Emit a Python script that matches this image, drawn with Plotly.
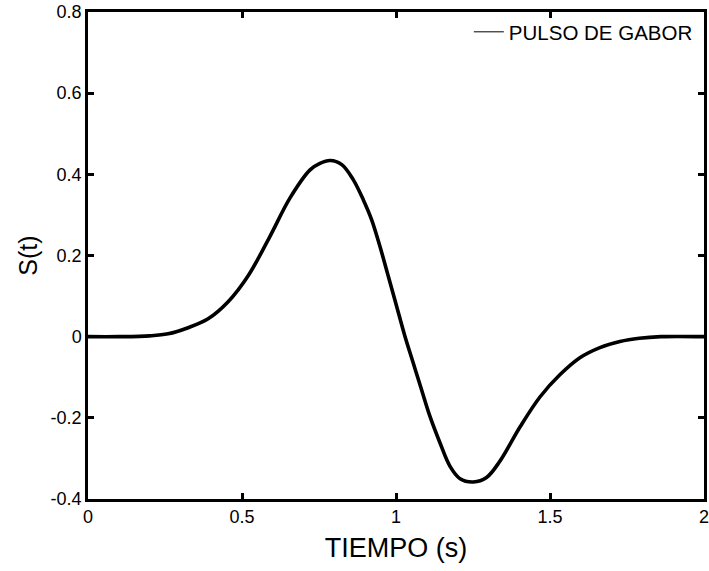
import plotly.graph_objects as go

# Gabor pulse S(t), sampled along the time axis
tiempo = [0.0, 0.1, 0.2, 0.26, 0.325, 0.39, 0.455, 0.52, 0.59, 0.656, 0.721,
          0.753, 0.786, 0.824, 0.861, 0.894, 0.921, 0.948, 0.975, 1.002, 1.029,
          1.056, 1.083, 1.110, 1.143, 1.175, 1.208, 1.251, 1.294, 1.338, 1.403,
          1.468, 1.532, 1.597, 1.662, 1.727, 1.79, 1.86, 2.0]
senal = [0.0, 0.0, 0.002, 0.007, 0.022, 0.044, 0.086, 0.150, 0.246, 0.342, 0.411,
         0.427, 0.434, 0.424, 0.387, 0.337, 0.288, 0.222, 0.149, 0.075, 0.001,
         -0.065, -0.131, -0.196, -0.262, -0.319, -0.350, -0.358, -0.347, -0.306, -0.222,
         -0.148, -0.094, -0.052, -0.027, -0.012, -0.004, 0.0, 0.0]

x_ticks = [0, 0.5, 1, 1.5, 2]
x_labels = ["0", "0.5", "1", "1.5", "2"]
y_ticks = [-0.4, -0.2, 0, 0.2, 0.4, 0.6, 0.8]
y_labels = ["-0.4", "-0.2", "0", "0.2", "0.4", "0.6", "0.8"]

FONT = "Liberation Sans, Arial, Helvetica, sans-serif"

fig = go.Figure()
fig.add_trace(go.Scatter(
    x=tiempo, y=senal, mode="lines",
    line=dict(color="black", width=3.6, shape="spline", smoothing=1.0),
    showlegend=False, hoverinfo="x+y",
))
# thin legend entry
fig.add_trace(go.Scatter(
    x=[None], y=[None], mode="lines", name="PULSO DE GABOR",
    line=dict(color="black", width=1),
))

axis_common = dict(
    showline=True, linecolor="black", linewidth=2.5, mirror="allticks",
    ticks="inside", ticklen=6, tickwidth=2.5, tickcolor="black",
    showgrid=False, zeroline=False, ticklabeloverflow="allow",
    tickfont=dict(family=FONT, size=18, color="black"),
)

fig.update_xaxes(
    range=[0, 2], tickvals=x_ticks, ticktext=x_labels,
    title=dict(text="TIEMPO (s)", font=dict(family=FONT, size=27, color="black"), standoff=12),
    **axis_common,
)
fig.update_yaxes(
    range=[-0.4, 0.8], tickvals=y_ticks, ticktext=y_labels,
    title=dict(text="S(t)", font=dict(family=FONT, size=25, color="black"), standoff=6),
    **axis_common,
)

fig.update_layout(
    width=709, height=571,
    margin=dict(l=88, r=5, t=12, b=72, autoexpand=False),
    paper_bgcolor="white", plot_bgcolor="white",
    font=dict(family=FONT, color="black"),
    legend=dict(
        x=0.99, y=1, xanchor="right", yanchor="top",
        bgcolor="rgba(0,0,0,0)", borderwidth=0,
        font=dict(family=FONT, size=20.5, color="black"),
        itemwidth=30,
    ),
)

fig.write_html("out.html")
